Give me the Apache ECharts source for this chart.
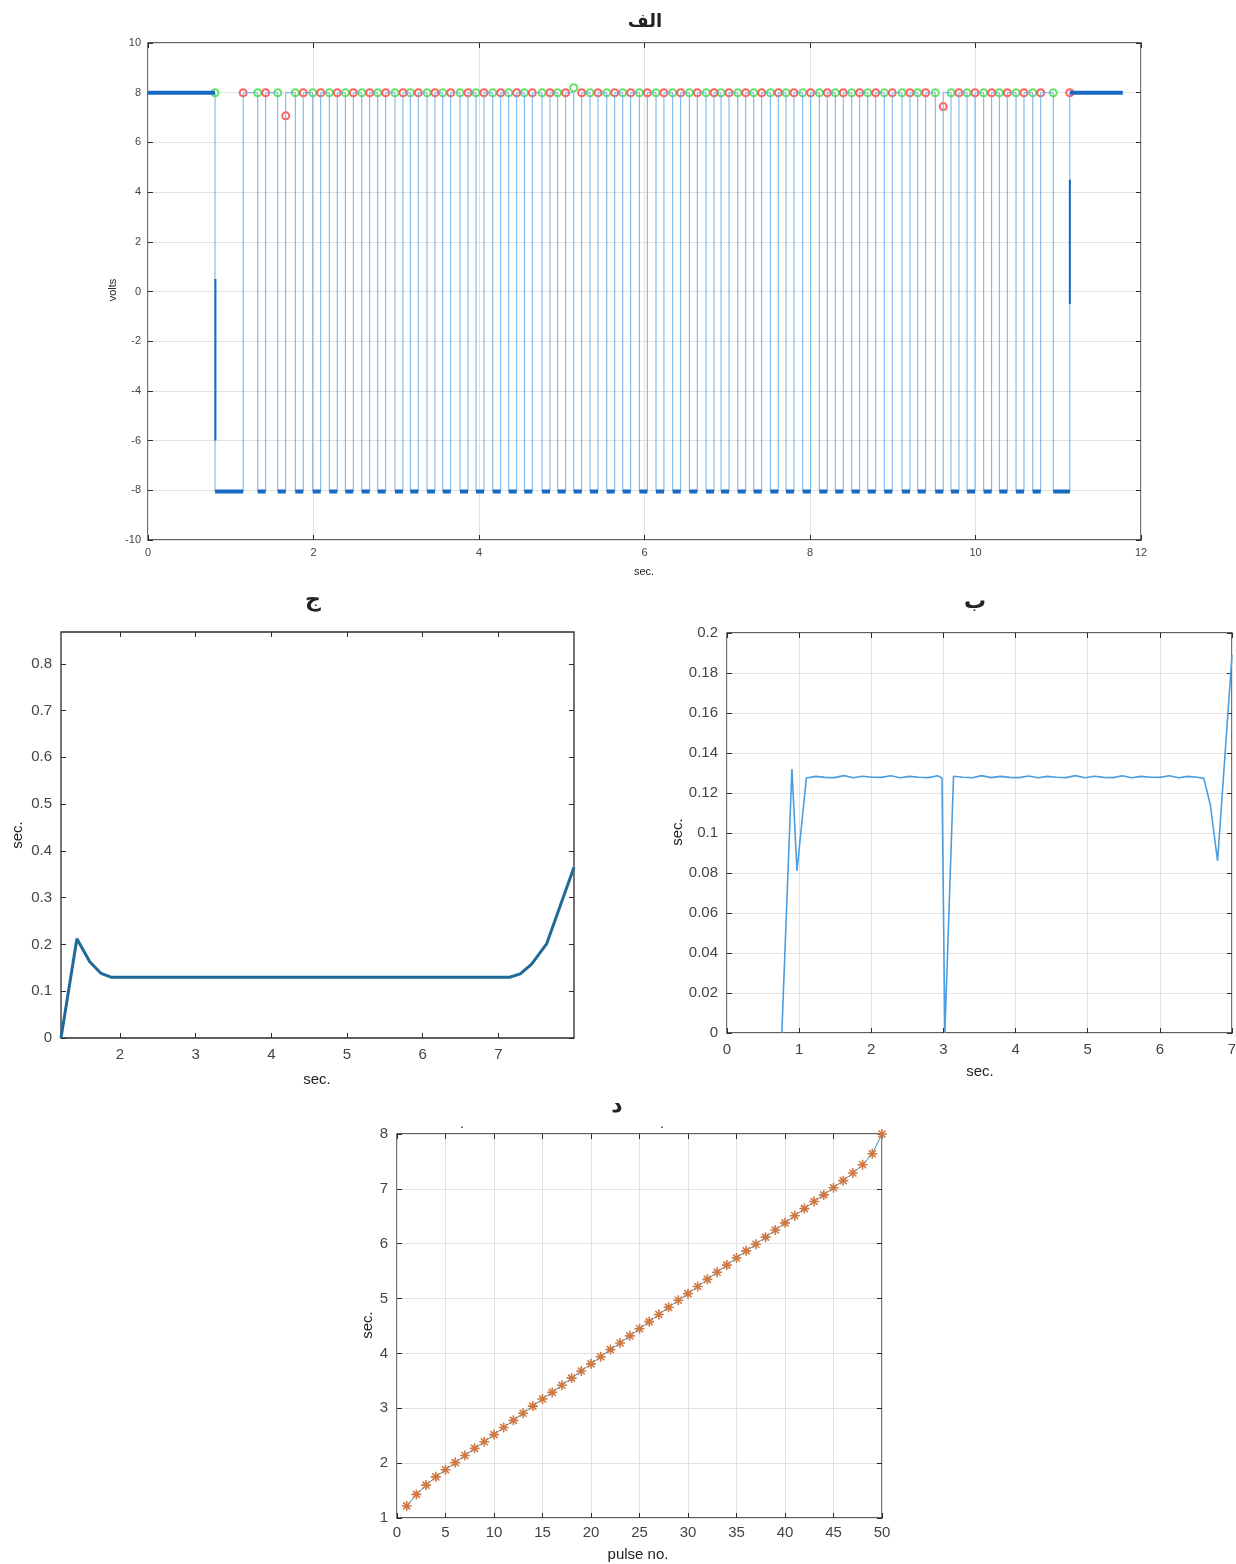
<!DOCTYPE html>
<html lang="fa">
<head>
<meta charset="UTF-8">
<title>pulses</title>
<script src="https://cdn.jsdelivr.net/npm/echarts@6/dist/echarts.min.js"></script>
<style>
    html, body { margin: 0; background: #fff; }
    #main { width: 1236px; height: 1564px; }
</style>
</head>
<body>
<div id="main"></div>
<script>
// panel الف : edges of the square wave (sec.)
var fallT = [0.81, 1.326, 1.568, 1.780, 1.991, 2.191, 2.385, 2.583, 2.776, 2.985, 3.170, 3.372, 3.562,
    3.771, 3.964, 4.166, 4.359, 4.548, 4.762, 4.951, 5.145, 5.342, 5.544, 5.737, 5.938, 6.139, 6.341,
    6.542, 6.744, 6.925, 7.127, 7.320, 7.521, 7.710, 7.912, 8.113, 8.306, 8.504, 8.698, 8.898, 9.112,
    9.302, 9.514, 9.704, 9.898, 10.099, 10.288, 10.490, 10.692, 10.94];
var riseT = [1.15, 1.422, 1.664, 1.876, 2.087, 2.287, 2.481, 2.679, 2.872, 3.081, 3.266, 3.468, 3.658,
    3.867, 4.060, 4.262, 4.455, 4.644, 4.858, 5.047, 5.241, 5.438, 5.640, 5.833, 6.034, 6.235, 6.437,
    6.638, 6.840, 7.021, 7.223, 7.416, 7.617, 7.806, 8.008, 8.209, 8.402, 8.600, 8.794, 8.994, 9.208,
    9.398, 9.610, 9.800, 9.994, 10.195, 10.384, 10.586, 10.788, 11.14];
var highV = 8, lowV = -8.05, sigEnd = 11.78;
var riseMarkY = {2: 7.07, 42: 7.44};   // red marks that sit off the level
var fallMarkY = {20: 8.2};
var edgeBits = [[0.815, 0.5], [0.815, -6], null, [11.14, 4.5], [11.14, -0.5]];

// panel ب : pulse width
var widthT = [0.76, 0.90, 0.97, 1.10, 1.23, 1.36, 1.49, 1.62, 1.75, 1.88, 2.01, 2.14, 2.27, 2.40, 2.53,
    2.66, 2.79, 2.92, 2.98, 3.02, 3.14, 3.27, 3.40, 3.53, 3.66, 3.79, 3.92, 4.05, 4.18, 4.31, 4.44, 4.57,
    4.70, 4.83, 4.96, 5.09, 5.22, 5.35, 5.48, 5.61, 5.74, 5.87, 6.00, 6.13, 6.26, 6.39, 6.52, 6.61, 6.70,
    6.80, 7.00];
var widthV = [0, 0.132, 0.081, 0.1275, 0.1283, 0.1278, 0.1277, 0.1287, 0.1276, 0.1284, 0.1279, 0.1278,
    0.1286, 0.1276, 0.1283, 0.1279, 0.1277, 0.1286, 0.1275, 0, 0.1284, 0.1279, 0.1276, 0.1287, 0.1277,
    0.1283, 0.1278, 0.1277, 0.1285, 0.1276, 0.1283, 0.1279, 0.1277, 0.1287, 0.1276, 0.1284, 0.1278,
    0.1277, 0.1286, 0.1276, 0.1283, 0.1279, 0.1278, 0.1286, 0.1276, 0.1283, 0.1279, 0.1273, 0.114,
    0.086, 0.189];

// panels ج and د : pulse times and gaps
var pulseNo = [1, 2, 3, 4, 5, 6, 7, 8, 9, 10, 11, 12, 13, 14, 15, 16, 17, 18, 19, 20, 21, 22, 23, 24, 25,
    26, 27, 28, 29, 30, 31, 32, 33, 34, 35, 36, 37, 38, 39, 40, 41, 42, 43, 44, 45, 46, 47, 48, 49, 50];
var pulseTime = [1.22, 1.43, 1.60, 1.75, 1.88, 2.01, 2.14, 2.27, 2.39, 2.52, 2.65, 2.78, 2.91, 3.04, 3.17,
    3.29, 3.42, 3.55, 3.68, 3.81, 3.94, 4.07, 4.19, 4.32, 4.45, 4.58, 4.71, 4.84, 4.97, 5.09, 5.22, 5.35,
    5.48, 5.61, 5.74, 5.87, 5.99, 6.12, 6.25, 6.38, 6.51, 6.64, 6.77, 6.89, 7.02, 7.15, 7.29, 7.44, 7.64, 8.00];
var pulseGap = [0, 0.212, 0.163, 0.138, 0.13, 0.13, 0.13, 0.13, 0.13, 0.13, 0.13, 0.13, 0.13, 0.13, 0.13,
    0.13, 0.13, 0.13, 0.13, 0.13, 0.13, 0.13, 0.13, 0.13, 0.13, 0.13, 0.13, 0.13, 0.13, 0.13, 0.13, 0.13,
    0.13, 0.13, 0.13, 0.13, 0.13, 0.13, 0.13, 0.13, 0.13, 0.13, 0.13, 0.13, 0.13, 0.13, 0.137, 0.158,
    0.202, 0.365];

var gapTicksX = [2, 3, 4, 5, 6, 7];
var gapTicksY = [0, 0.1, 0.2, 0.3, 0.4, 0.5, 0.6, 0.7, 0.8];

// build the wave
var wave = [[0, highV]];
var levels = [[0, highV], [fallT[0], highV], [fallT[0], null]];
for (var i = 0; i < fallT.length; i++) {
    wave.push([fallT[i], highV], [fallT[i], lowV], [riseT[i], lowV], [riseT[i], highV]);
    levels.push([fallT[i], lowV], [riseT[i], lowV], [riseT[i], null]);
}
wave.push([sigEnd, highV]);
levels.push([riseT[riseT.length - 1], highV], [sigEnd, highV]);
var edgeData = edgeBits.map(function (p) { return p ? p : [0.8, null]; });
var redMarks = riseT.map(function (t, i) { return [t, riseMarkY[i] !== undefined ? riseMarkY[i] : highV]; });
var greenMarks = fallT.map(function (t, i) { return [t, fallMarkY[i] !== undefined ? fallMarkY[i] : highV]; });

function zip(a, b) { return a.map(function (v, i) { return [v, b[i]]; }); }

var boxCol = '#2b2b2b';
function axis(grid, pos, o) {
    var main = pos === 'bottom' || pos === 'left';
    var a = {
        type: 'value', gridIndex: grid, position: pos, min: o.min, max: o.max,
        axisLine: {show: false, onZero: false},
        axisTick: {show: true, inside: true, length: 5, lineStyle: {color: boxCol}},
        axisLabel: {show: main, color: '#444', fontSize: o.fs, fontFamily: 'Liberation Sans', margin: o.margin || 8},
        splitLine: {show: main && !!o.grid, lineStyle: {color: '#e2e2e2'}}
    };
    if (o.interval) a.interval = o.interval;
    if (o.ticks) {
        a.axisLabel.customValues = o.ticks;
        a.axisTick.customValues = o.ticks;
    }
    return a;
}
function box(l, t, w, h) {
    return {left: l, top: t, width: w, height: h, show: true, borderColor: boxCol, borderWidth: 1.3,
        outerBoundsMode: 'none'};
}
function label(text, x, y, size, rot, bold) {
    return {type: 'text', x: x, y: y, rotation: rot ? Math.PI / 2 : 0, silent: true,
        style: {text: text, fill: '#222', align: 'center', verticalAlign: 'middle',
            font: (bold ? 'bold ' : '') + size + 'px ' + (bold ? 'DejaVu Sans' : 'Liberation Sans')}};
}

var topX = {min: 0, max: 12, interval: 2, fs: 11, grid: true, margin: 7};
var topY = {min: -10, max: 10, interval: 2, fs: 11, grid: true, margin: 7};
var gX = {min: 1.22, max: 8.0, ticks: gapTicksX, fs: 15, margin: 9};
var gY = {min: 0, max: 0.868, ticks: gapTicksY, fs: 15, margin: 9};
var wX = {min: 0, max: 7, interval: 1, fs: 15, grid: true, margin: 9};
var wY = {min: 0, max: 0.2, interval: 0.02, fs: 15, grid: true, margin: 9};
var pX = {min: 0, max: 50, interval: 5, fs: 15, grid: true, margin: 7};
var pY = {min: 1, max: 8, interval: 1, fs: 15, grid: true, margin: 9};

var star = 'path://M5 0L5 10M0 5L10 5M1.5 1.5L8.5 8.5M8.5 1.5L1.5 8.5';

var myChart = echarts.init(document.getElementById('main'));
myChart.setOption({
    animation: false,
    backgroundColor: '#fff',
    grid: [box(148, 43, 993, 497), box(61, 632, 513, 406), box(727, 633, 505, 400), box(397, 1134, 485, 384)],
    xAxis: [
        axis(0, 'bottom', topX), axis(1, 'bottom', gX), axis(2, 'bottom', wX), axis(3, 'bottom', pX),
        axis(0, 'top', topX), axis(1, 'top', gX), axis(2, 'top', wX), axis(3, 'top', pX)
    ],
    yAxis: [
        axis(0, 'left', topY), axis(1, 'left', gY), axis(2, 'left', wY), axis(3, 'left', pY),
        axis(0, 'right', topY), axis(1, 'right', gY), axis(2, 'right', wY), axis(3, 'right', pY)
    ],
    series: [
        {type: 'line', xAxisIndex: 0, yAxisIndex: 0, data: wave, symbol: 'none',
            lineStyle: {color: '#6eaee6', width: 1}},
        {type: 'line', xAxisIndex: 0, yAxisIndex: 0, data: levels, symbol: 'none', connectNulls: false,
            lineStyle: {color: '#1769c2', width: 4}},
        {type: 'line', xAxisIndex: 0, yAxisIndex: 0, data: edgeData, symbol: 'none', connectNulls: false,
            lineStyle: {color: '#1769c2', width: 2}},
        {type: 'scatter', xAxisIndex: 0, yAxisIndex: 0, data: greenMarks, symbol: 'emptyCircle', symbolSize: 7,
            itemStyle: {color: '#3fdc3f', borderWidth: 1.2}},
        {type: 'scatter', xAxisIndex: 0, yAxisIndex: 0, data: redMarks, symbol: 'emptyCircle', symbolSize: 7,
            itemStyle: {color: '#ff3a3a', borderWidth: 1.2}},
        {type: 'line', xAxisIndex: 1, yAxisIndex: 1, data: zip(pulseTime, pulseGap), symbol: 'none',
            lineStyle: {color: '#1f6a97', width: 3}},
        {type: 'line', xAxisIndex: 2, yAxisIndex: 2, data: zip(widthT, widthV), symbol: 'none',
            lineStyle: {color: '#4a9de0', width: 1.6}},
        {type: 'line', xAxisIndex: 3, yAxisIndex: 3, data: zip(pulseNo, pulseTime), symbol: star, symbolSize: 10,
            showAllSymbol: true,
            lineStyle: {color: '#3b8db5', width: 1},
            itemStyle: {color: 'none', borderColor: '#cf7841', borderWidth: 1.6}}
    ],
    graphic: [
        label('الف', 645, 22, 18, false, true),
        label('volts', 113, 290, 11, true),
        label('sec.', 644, 572, 11),
        label('ج', 313, 600, 22, false, true),
        label('sec.', 18, 835, 15, true),
        label('sec.', 317, 1080, 15),
        label('ب', 975, 602, 22, false, true),
        label('sec.', 678, 832, 15, true),
        label('sec.', 980, 1072, 15),
        label('د', 617, 1106, 22, false, true),
        label('.', 462, 1124, 14),
        label('.', 662, 1124, 14),
        label('sec.', 368, 1325, 15, true),
        label('pulse no.', 638, 1555, 15)
    ]
});
</script>
</body>
</html>
